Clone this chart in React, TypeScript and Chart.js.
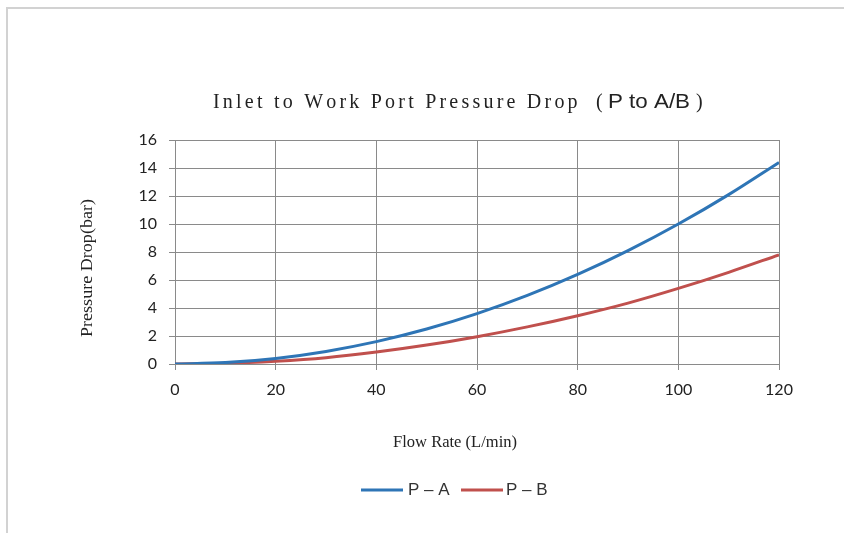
import React, { useEffect, useRef } from 'react';
import { Chart, registerables } from 'chart.js';

Chart.register(...registerables);

const flowRates = [0, 10, 20, 30, 40, 50, 60, 70, 80, 90, 100, 110, 120];
const pToA = [0, 0.1, 0.4, 0.9, 1.6, 2.5, 3.6, 4.9, 6.4, 8.1, 10.0, 12.1, 14.4];
const pToB = [0, 0.05, 0.2, 0.45, 0.85, 1.35, 1.95, 2.65, 3.45, 4.35, 5.4, 6.55, 7.8];

const TITLE_MAIN = 'Inlet to Work Port Pressure Drop';
const TITLE_SUB = 'P to A/B';
const X_TITLE = 'Flow Rate (L/min)';
const Y_TITLE = 'Pressure Drop(bar)';
const SERIES_LABELS = ['P – A', 'P – B'];
const COLORS = ['#2e75b6', '#c0504d'];

const SERIF = '"Liberation Serif", "Times New Roman", serif';
const SANS = '"Liberation Sans", Arial, sans-serif';
const TICK_FONT = 'Lato';

function drawSpaced(ctx: CanvasRenderingContext2D, text: string, x: number, y: number, totalWidth: number) {
  const natural = ctx.measureText(text).width;
  const gap = text.length > 1 ? (totalWidth - natural) / (text.length - 1) : 0;
  let cx = x;
  for (const ch of text) {
    ctx.fillText(ch, cx, y);
    cx += ctx.measureText(ch).width + gap;
  }
}

function drawFitted(ctx: CanvasRenderingContext2D, text: string, cx: number, cy: number, width: number, rotate: boolean) {
  const w = ctx.measureText(text).width;
  ctx.save();
  ctx.translate(cx, cy);
  if (rotate) ctx.rotate(-Math.PI / 2);
  ctx.scale(width / w, 1);
  ctx.fillText(text, 0, 0);
  ctx.restore();
}

const decorPlugin = {
  id: 'decor',
  beforeDraw(chart: any) {
    const ctx: CanvasRenderingContext2D = chart.ctx;
    ctx.save();
    ctx.fillStyle = '#ffffff';
    ctx.fillRect(0, 0, chart.width, chart.height);
    ctx.strokeStyle = '#d2d2d2';
    ctx.lineWidth = 2;
    ctx.beginPath();
    ctx.moveTo(7, chart.height);
    ctx.lineTo(7, 8);
    ctx.lineTo(chart.width, 8);
    ctx.stroke();
    ctx.restore();
  },
  afterDraw(chart: any) {
    const ctx: CanvasRenderingContext2D = chart.ctx;
    ctx.save();
    ctx.fillStyle = '#222222';
    ctx.textBaseline = 'alphabetic';
    ctx.textAlign = 'left';
    // Title
    ctx.font = `20px ${SERIF}`;
    drawSpaced(ctx, TITLE_MAIN, 213, 108, 363);
    ctx.fillText('(', 596, 108);
    ctx.fillText(')', 696, 108);
    ctx.font = `21px ${SANS}`;
    const subW = ctx.measureText(TITLE_SUB).width;
    ctx.save();
    ctx.translate(608, 108);
    ctx.scale(82 / subW, 1);
    ctx.fillText(TITLE_SUB, 0, 0);
    ctx.restore();

    // Axis titles
    ctx.font = `17px ${SERIF}`;
    ctx.textAlign = 'center';
    ctx.textBaseline = 'middle';
    drawFitted(ctx, X_TITLE, 455, 443, 124, false);
    drawFitted(ctx, Y_TITLE, 88, 268, 138, true);

    // Legend
    const legendY = 490;
    const items = [
      { x0: 361, x1: 403, tx: 408 },
      { x0: 461, x1: 503, tx: 506 },
    ];
    ctx.font = `17px ${SANS}`;
    ctx.textAlign = 'left';
    items.forEach((it, i) => {
      ctx.strokeStyle = COLORS[i];
      ctx.lineWidth = 3;
      ctx.beginPath();
      ctx.moveTo(it.x0, legendY);
      ctx.lineTo(it.x1, legendY);
      ctx.stroke();
      ctx.fillStyle = '#333333';
      ctx.fillText(SERIES_LABELS[i], it.tx, legendY);
    });
    ctx.restore();
  },
};

export default function App() {
  const canvasRef = useRef<HTMLCanvasElement | null>(null);

  useEffect(() => {
    document.body.style.margin = '0';
    const canvas = canvasRef.current;
    if (!canvas) return;
    const gridColor = '#8a8a8a';
    const chart = new Chart(canvas, {
      type: 'line',
      data: {
        datasets: [
          {
            label: SERIES_LABELS[0],
            data: flowRates.map((x, i) => ({ x, y: pToA[i] })),
            borderColor: COLORS[0],
            backgroundColor: COLORS[0],
            borderWidth: 3,
            pointRadius: 0,
            cubicInterpolationMode: 'monotone',
            fill: false,
          },
          {
            label: SERIES_LABELS[1],
            data: flowRates.map((x, i) => ({ x, y: pToB[i] })),
            borderColor: COLORS[1],
            backgroundColor: COLORS[1],
            borderWidth: 3,
            pointRadius: 0,
            cubicInterpolationMode: 'monotone',
            fill: false,
          },
        ],
      },
      options: {
        responsive: false,
        animation: false,
        layout: { padding: { top: 140, right: 65, bottom: 0, left: 0 } },
        plugins: {
          legend: { display: false },
          title: { display: false },
          tooltip: { enabled: false },
        },
        scales: {
          x: {
            type: 'linear',
            min: 0,
            max: 120,
            ticks: {
              stepSize: 20,
              padding: 10,
              color: '#222222',
              font: { family: TICK_FONT, size: 16 },
            },
            grid: { color: gridColor, tickLength: 6, lineWidth: 1 },
            border: { color: gridColor },
            afterFit: (scale: any) => {
              scale.height = 169;
            },
          },
          y: {
            type: 'linear',
            min: 0,
            max: 16,
            ticks: {
              stepSize: 2,
              padding: 12,
              color: '#222222',
              font: { family: TICK_FONT, size: 16 },
            },
            grid: { color: gridColor, tickLength: 6, lineWidth: 1 },
            border: { color: gridColor },
            afterFit: (scale: any) => {
              scale.width = 175;
            },
          },
        },
      } as any,
      plugins: [decorPlugin],
    });
    return () => chart.destroy();
  }, []);

  return (
    <div style={{ width: 844, height: 533 }}>
      <canvas ref={canvasRef} width={844} height={533} style={{ display: 'block' }} />
    </div>
  );
}
